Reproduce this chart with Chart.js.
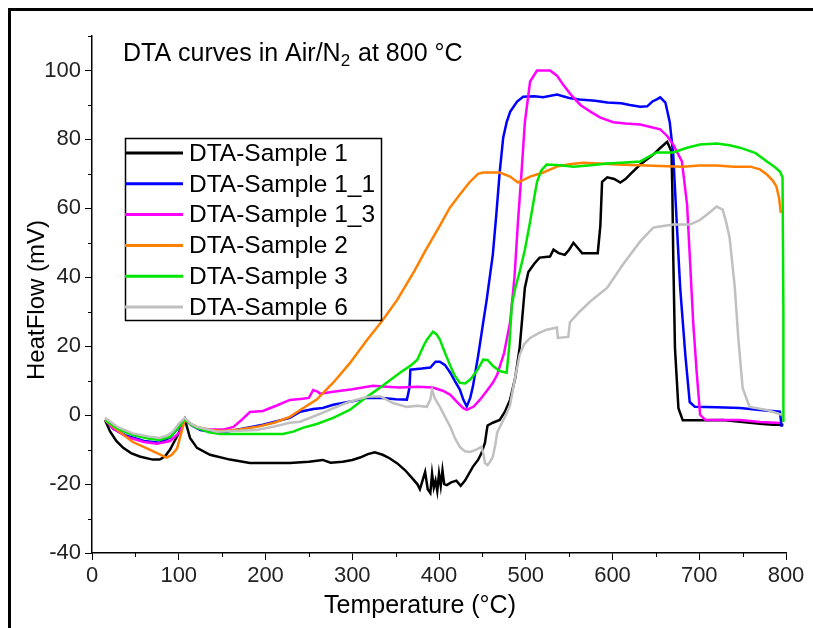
<!DOCTYPE html>
<html>
<head>
<meta charset="utf-8">
<script src="https://cdn.jsdelivr.net/npm/chart.js@4.4.1/dist/chart.umd.min.js"></script>
<style>
  body { margin: 0; background: #fff; }
  canvas { display: block; }
</style>
</head>
<body>
<canvas id="dtaChart" width="813" height="628"></canvas>
<script>
var seriesNames = ["DTA-Sample 1", "DTA-Sample 1_1", "DTA-Sample 1_3", "DTA-Sample 2", "DTA-Sample 3", "DTA-Sample 6"];
var seriesColors = ["#000000", "#0000ff", "#ff00ff", "#ff8000", "#00e600", "#c0c0c0"];

var xTickValues = [0, 100, 200, 300, 400, 500, 600, 700, 800];
var xMinorTicks = [50, 150, 250, 350, 450, 550, 650, 750];
var yTickValues = [-40, -20, 0, 20, 40, 60, 80, 100];
var yMinorTicks = [-30, -10, 10, 30, 50, 70, 90, 110];

// [temperature (°C), heat flow (mV)]
var sample1 = [[15,-1.4],[21,-4.8],[28,-7.5],[36,-9.5],[45,-11],[55,-12],[70,-12.9],[78,-12.9],[84,-12],[90,-10],[99,-5.7],[107,-1.2],[113,-6.6],[121,-9.5],[136,-11.5],[159,-12.9],[182,-13.9],[228,-13.9],[250,-13.5],[266,-13],[275,-13.8],[289,-13.5],[300,-13],[309,-12.3],[318,-11.3],[326,-10.8],[335,-11.5],[343,-12.5],[352,-14],[361,-16],[368,-18],[375,-20],[378,-21.5],[381,-19],[384,-16.5],[387,-21.5],[390,-22.6],[392,-17],[394,-21],[396,-19],[398,-22],[400,-17],[402,-20.5],[404,-16],[406,-20],[409,-20.3],[414,-19.5],[420,-19],[425,-20.5],[430,-19],[439,-15],[445,-13],[449,-11],[453,-8],[455,-4.5],[456,-3],[462,-2.2],[470,-1.4],[476,1],[482,4.5],[488,11],[493,19.6],[499,37],[503,41.5],[510,44],[516,45.7],[528,46],[532,48],[538,47],[545,46.5],[550,48],[555,50],[560,48.5],[565,47],[570,47],[583,47],[586,55],[588,67.7],[594,69],[602,68.5],[609,67.5],[615,68.5],[620,69.8],[632,72.7],[647,75.6],[655,77.5],[663,79.3],[668,76.5],[669,65],[670,46.5],[672,19.5],[676,2],[681,-1.5],[700,-1.5],[727,-1.4],[750,-2],[770,-2.5],[785,-2.8],[797,-2.8]];
var sample1_1 = [[15,-1.4],[25,-4],[40,-6],[60,-7.5],[78,-8],[90,-6.5],[100,-3.5],[107,-1],[115,-3],[125,-4.3],[140,-5],[155,-4.8],[167,-4.2],[182,-3.5],[197,-2.8],[213,-1.8],[228,-0.8],[240,1],[255,1.8],[266,2.1],[278,3],[300,4],[317,5],[335,5],[350,4.6],[363,4.5],[366,8],[367,13.2],[380,13.5],[390,13.8],[396,15.5],[401,15.5],[407,14.5],[413,12.3],[418,10],[424,7.4],[428,4.5],[432,2.5],[436,5],[439,8.2],[445,17],[451,27],[455,33.5],[462,46.5],[466,58],[470,70.6],[474,80.5],[478,85],[482,88],[490,91],[497,92.4],[510,92.5],[520,92.2],[536,93],[550,92],[562,91.6],[580,91.2],[594,90.7],[610,90.5],[620,90],[632,89.5],[640,89.6],[646,91],[651,91.6],[655,92.2],[661,90.7],[666,85],[670,75.6],[674,56],[678,37],[684,17.3],[689,3.8],[695,2.4],[720,2.3],[747,2.1],[770,1.5],[793,1],[795,-3.4]];
var sample1_3 = [[15,-1.4],[25,-4],[40,-6.3],[60,-7.8],[75,-8.3],[90,-7.5],[101,-5],[107,-1.2],[115,-3],[121,-3.7],[136,-4.2],[151,-4.2],[163,-3.4],[172,-1.5],[182,0.9],[197,1.2],[213,2.8],[228,4.4],[240,4.7],[250,5],[255,7.3],[260,6.8],[263,6.2],[278,6.8],[300,7.5],[324,8.5],[340,8.2],[355,8],[375,8.2],[393,8],[405,7],[413,5.9],[422,3.5],[428,2],[432,1.5],[440,2.5],[447,4.4],[455,7],[462,9.4],[467,11.7],[475,18],[482,27],[487,40],[491,56],[495,70],[499,85],[505,96.8],[513,100],[520,100],[528,100],[536,98.5],[543,95.9],[552,93],[563,90],[575,88],[586,86.3],[601,85],[615,84.6],[632,84.3],[645,83.5],[655,82.9],[663,81],[670,78.5],[680,73.6],[686,61],[689,46.5],[693,27],[697,12.6],[701,0.1],[707,-1.4],[747,-1.4],[770,-2],[793,-2.3]];
var sample2 = [[15,-1.4],[30,-4.5],[47,-7.8],[62,-9.5],[75,-11],[86,-12.3],[92,-11.5],[98,-9.7],[103,-5],[107,-1.4],[114,-2.5],[121,-3.4],[136,-4.3],[151,-4.6],[170,-4.2],[190,-3.4],[210,-2.2],[228,-0.5],[240,1.5],[259,4.5],[278,9.4],[297,15],[317,21.8],[335,27.5],[352,33.5],[372,42],[385,48],[401,55],[412,60],[424,64],[435,67.5],[445,70],[451,70.4],[470,70.4],[482,69.2],[491,67.5],[498,68.3],[505,69.2],[520,70.4],[536,72.1],[550,72.8],[566,73.2],[585,73],[605,72.7],[630,72.5],[655,72.3],[681,72.1],[700,72.4],[720,72.4],[740,72.1],[759,72.1],[770,71.3],[778,69.8],[785,68],[789,66.3],[792,63],[794,58.7]];
var sample3 = [[15,-1.4],[30,-4],[47,-5.8],[65,-6.8],[78,-7.2],[90,-6.3],[100,-3.5],[107,-1.1],[114,-2.8],[121,-3.7],[135,-5],[148,-5.5],[180,-5.5],[220,-5.5],[232,-4.8],[243,-3.7],[260,-2.5],[278,-0.8],[297,1.5],[317,5.3],[335,8.5],[355,12.3],[368,14.5],[375,16.1],[382,20],[386,21.9],[393,24.2],[397,23.5],[401,21.9],[407,18],[413,14.3],[418,11.5],[424,9.4],[430,9.2],[436,10.3],[444,13],[451,16.1],[456,16],[462,14.3],[470,12.8],[478,12.3],[481,20],[484,32],[488,37],[493,41.6],[499,48],[505,56.1],[509,62],[513,67.7],[518,71],[524,72.7],[540,72.5],[555,72.1],[575,72.5],[594,73],[615,73.3],[632,73.6],[642,75],[651,76.2],[670,76.2],[685,77.5],[701,78.5],[720,78.8],[735,78.3],[747,77.6],[765,76],[778,73.6],[787,72],[793,70.7],[796,69],[797,30],[797,-2]];
var sample6 = [[15,-0.8],[30,-3.5],[47,-5.3],[65,-6.2],[78,-6.6],[86,-6],[93,-4.8],[100,-2.5],[107,-0.8],[114,-2.5],[121,-3.4],[144,-4.8],[170,-4.5],[190,-4.3],[210,-3.3],[228,-2.2],[240,-1.9],[266,0.7],[278,2],[297,3.9],[317,5.3],[332,5.5],[347,3.5],[363,2.4],[375,2.7],[386,2.4],[390,4.5],[392,7.4],[395,5],[401,2.4],[407,-0.5],[413,-3.4],[418,-6.5],[424,-9.2],[430,-10.5],[436,-10.7],[443,-10],[449,-9.2],[451,-11],[453,-13.9],[456,-14.5],[459,-13.5],[462,-12.1],[465,-8.5],[467,-5.1],[473,-2],[478,0.5],[482,3],[487,10],[493,17.5],[498,20.5],[505,22.4],[515,23.8],[524,24.8],[536,25.4],[537,22.4],[549,22.7],[551,27],[562,30],[574,32.9],[594,37],[612,43.7],[632,50.4],[647,54.4],[651,54.6],[670,55.3],[689,55.3],[700,56.5],[709,58.2],[720,60.5],[727,59.6],[731,56],[735,51.5],[741,37],[745,22.4],[750,7.9],[758,2.4],[778,1.5],[795,0.1]];

var allSeries = [sample1, sample1_1, sample1_3, sample2, sample3, sample6];

var fontFamily = "'Liberation Sans', Arial, sans-serif";
var tickFamily = "'Liberation Sans Narrow', 'Arial Narrow', 'Liberation Sans', sans-serif";

function toPoints(series) {
  return series.map(function (p) {
    return { x: p[0], y: p[1] };
  });
}

var datasets = allSeries.map(function (series, i) {
  return {
    label: seriesNames[i],
    data: toPoints(series),
    borderColor: seriesColors[i],
    backgroundColor: seriesColors[i],
    borderWidth: 2.5,
    pointRadius: 0,
    tension: 0,
    fill: false,
    order: allSeries.length - i,
  };
});

var decorPlugin = {
  id: "decor",
  beforeDraw: function (chart) {
    var ctx = chart.ctx;
    ctx.save();
    ctx.fillStyle = "#fff";
    ctx.fillRect(0, 0, chart.width, chart.height);
    ctx.restore();
  },
  afterDraw: function (chart) {
    var ctx = chart.ctx;
    var xs = chart.scales.x;
    var ys = chart.scales.y;
    ctx.save();

    // outer frame (top and left only)
    ctx.strokeStyle = "#000";
    ctx.lineWidth = 3;
    ctx.beginPath();
    ctx.moveTo(9.5, chart.height);
    ctx.lineTo(9.5, 9.5);
    ctx.lineTo(chart.width, 9.5);
    ctx.stroke();

    // minor ticks
    ctx.lineWidth = 1;
    ctx.beginPath();
    yMinorTicks.forEach(function (v) {
      var py = Math.round(ys.getPixelForValue(v)) + 0.5;
      ctx.moveTo(xs.left, py);
      ctx.lineTo(xs.left - 4, py);
    });
    xMinorTicks.forEach(function (v) {
      var px = Math.round(xs.getPixelForValue(v)) + 0.5;
      ctx.moveTo(px, ys.bottom);
      ctx.lineTo(px, ys.bottom + 4);
    });
    ctx.stroke();

    // title with subscript
    ctx.fillStyle = "#000";
    ctx.textBaseline = "alphabetic";
    ctx.textAlign = "left";
    var tx = 123;
    var ty = 61;
    ctx.font = "25px " + fontFamily;
    var part1 = "DTA curves in Air/N";
    ctx.fillText(part1, tx, ty);
    tx += ctx.measureText(part1).width;
    ctx.font = "17px " + fontFamily;
    ctx.fillText("2", tx, ty + 5);
    tx += ctx.measureText("2").width + 1;
    ctx.font = "25px " + fontFamily;
    ctx.fillText(" at 800 \u00b0C", tx, ty);

    // axis titles
    ctx.textAlign = "center";
    ctx.textBaseline = "middle";
    ctx.font = "25px " + fontFamily;
    ctx.fillText("Temperature (\u00b0C)", 420, 606);
    ctx.save();
    ctx.translate(37, 300);
    ctx.rotate(-Math.PI / 2);
    ctx.font = "24px " + fontFamily;
    ctx.fillText("HeatFlow (mV)", 0, 0);
    ctx.restore();

    // legend box
    var lx = 125.5, ly = 138.5, lw = 256, lh = 182;
    ctx.lineWidth = 1.5;
    ctx.strokeStyle = "#000";
    ctx.strokeRect(lx, ly, lw, lh);
    ctx.font = "24.5px " + fontFamily;
    ctx.textAlign = "left";
    ctx.textBaseline = "middle";
    chart.data.datasets.forEach(function (ds, i) {
      var rowY = 153 + i * 30.8;
      ctx.strokeStyle = ds.borderColor;
      ctx.lineWidth = 3;
      ctx.beginPath();
      ctx.moveTo(125, rowY);
      ctx.lineTo(183, rowY);
      ctx.stroke();
      ctx.fillStyle = "#000";
      ctx.fillText(ds.label, 189, rowY + 1);
    });

    ctx.restore();
  },
};

var ctx = document.getElementById("dtaChart").getContext("2d");

var myChart = new Chart(ctx, {
  type: "line",
  data: { datasets: datasets },
  options: {
    responsive: false,
    animation: false,
    layout: {
      padding: { top: 36, right: 27, left: 12, bottom: 0 },
    },
    plugins: {
      legend: { display: false },
      title: { display: false },
      tooltip: { enabled: false },
    },
    scales: {
      x: {
        type: "linear",
        min: 0,
        max: 800,
        afterBuildTicks: function (scale) {
          scale.ticks = xTickValues.map(function (v) {
            return { value: v };
          });
        },
        afterFit: function (scale) {
          scale.height = 75;
        },
        ticks: {
          color: "#222",
          font: { family: tickFamily, size: 22 },
          padding: 3,
          maxRotation: 0,
        },
        grid: {
          drawOnChartArea: false,
          drawTicks: true,
          tickLength: 7,
          tickColor: "#000",
          tickWidth: 1,
        },
        border: { color: "#000", width: 1.5 },
      },
      y: {
        type: "linear",
        min: -40,
        max: 110,
        afterBuildTicks: function (scale) {
          scale.ticks = yTickValues.map(function (v) {
            return { value: v };
          });
        },
        afterFit: function (scale) {
          scale.width = 80;
        },
        ticks: {
          color: "#222",
          font: { family: tickFamily, size: 22 },
          padding: 4,
        },
        grid: {
          drawOnChartArea: false,
          drawTicks: true,
          tickLength: 7,
          tickColor: "#000",
          tickWidth: 1,
        },
        border: { color: "#000", width: 1.5 },
      },
    },
  },
  plugins: [decorPlugin],
});
</script>
</body>
</html>
